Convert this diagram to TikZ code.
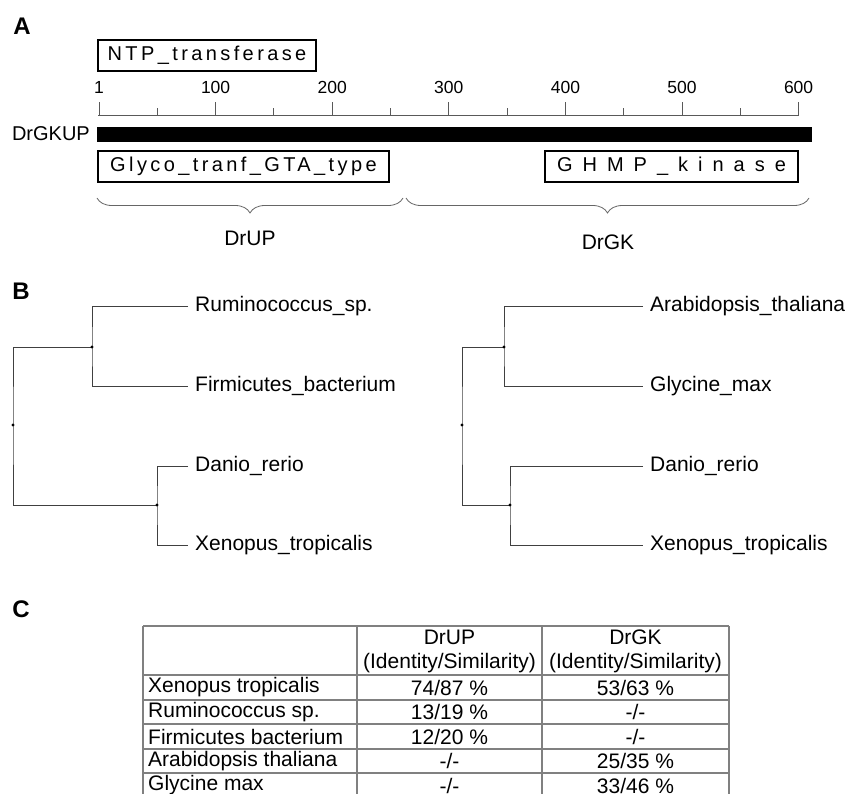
\documentclass[tikz,border=0pt]{standalone}
\usepackage{fontspec}
\setmainfont{Liberation Sans}
\usetikzlibrary{decorations.pathreplacing}

\tikzset{
  panel/.style={inner sep=0pt,font=\fontsize{24}{28}\selectfont\bfseries},
  dombox/.style={draw,line width=2pt,minimum height=31pt,inner sep=0pt,font=\fontsize{20}{24}\selectfont},
  num/.style={inner sep=0pt,font=\fontsize{17.5}{20}\selectfont},
  ruler/.style={draw=black!65,line width=1pt},
  curly/.style={draw=black!60,line width=0.8pt,decorate,decoration={brace,mirror,amplitude=15pt}},
  leaf/.style={anchor=west,inner xsep=7pt,inner ysep=0pt,font=\fontsize{21}{25}\selectfont},
  branch/.style={draw=black!75,line width=0.8pt},
  cell/.style={inner sep=0pt,font=\fontsize{21}{23.5}\selectfont},
  tabline/.style={draw=black!50,line width=1.4pt},
}

\begin{document}
\begin{tikzpicture}[x=1pt,y=-1pt]
\useasboundingbox (0,0) rectangle (852,794);

\node[panel] (pA) at (22,26) {A};
\node[panel] (pB) at (21,291) {B};
\node[panel] (pC) at (21,609) {C};

\node[dombox,minimum width=218pt] (ntp) at (207,55.5) {\addfontfeature{LetterSpace=17}NTP\_transferase};

\draw[ruler] (98,116) -- (799,116);
\foreach \n in {50,150,...,550}
  \draw[ruler] ({99+1.166*\n},116) -- ++(0,-8);
\foreach \n/\lab in {0/1,100/100,200/200,300/300,400/400,500/500,600/600} {
  \draw[ruler] ({99+1.166*\n},116) -- ++(0,-14);
  \node[num] (pos\lab) at ({99+1.166*\n},87) {\lab};
}

\node[anchor=east,inner sep=0pt,font=\fontsize{20}{24}\selectfont] (prot) at (90,134) {DrGKUP};
\node[fill,anchor=west,minimum width=715pt,minimum height=15pt,inner sep=0pt] (bar) at (97,134.5) {};

\node[dombox,minimum width=291pt] (glyco) at (243.5,166.5) {\addfontfeature{LetterSpace=17}Glyco\_tranf\_GTA\_type};
\node[dombox,minimum width=253pt] (ghmp) at (671.5,166.5) {\addfontfeature{LetterSpace=50}GHMP\_kinase};

\draw[curly] (97,198) -- (403,198);
\draw[curly] (406,198) -- (809,198);
\node[cell] (drup) at (250,238) {DrUP};
\node[cell] (drgk) at (608,242) {DrGK};

\coordinate (rootL) at (13,425);
\coordinate (upL) at (92,347);
\coordinate (loL) at (157,505);
\node[leaf] (rumi) at (188,306) {Ruminococcus\_sp.};
\node[leaf] (firm) at (188,386) {Firmicutes\_bacterium};
\node[leaf] (danL) at (188,466) {Danio\_rerio};
\node[leaf] (xenL) at (188,545) {Xenopus\_tropicalis};
\draw[branch] (rumi.west) -| (upL) |- (firm.west);
\draw[branch] (danL.west) -| (loL) |- (xenL.west);
\draw[branch] (upL) -| (rootL) |- (loL);

\coordinate (rootR) at (462,425);
\coordinate (upR) at (504,347);
\coordinate (loR) at (510,505);
\node[leaf] (arab) at (643,306) {Arabidopsis\_thaliana};
\node[leaf] (glyc) at (643,386) {Glycine\_max};
\node[leaf] (danR) at (643,466) {Danio\_rerio};
\node[leaf] (xenR) at (643,545) {Xenopus\_tropicalis};
\draw[branch] (arab.west) -| (upR) |- (glyc.west);
\draw[branch] (danR.west) -| (loR) |- (xenR.west);
\draw[branch] (upR) -| (rootR) |- (loR);

\foreach \p in {rootL,upL,loL,rootR,upR,loR}
  \fill (\p) circle (1.6pt);

\foreach \y in {626,675,700,724,749,773}
  \draw[tabline] (143,\y) -- (729,\y);
\foreach \x in {143,357,542,729}
  \draw[tabline] (\x,626) -- (\x,800);

\node[cell,align=center] (hup) at (449.5,651.5) {DrUP\\(Identity/Similarity)};
\node[cell,align=center] (hgk) at (635.5,651.5) {DrGK\\(Identity/Similarity)};
\foreach \sp/\up/\gk [count=\i] in {{Xenopus tropicalis}/{74/87 \%}/{53/63 \%},
    {Ruminococcus sp.}/{13/19 \%}/{-/-},
    {Firmicutes bacterium}/{12/20 \%}/{-/-},
    {Arabidopsis thaliana}/{-/-}/{25/35 \%},
    {Glycine max}/{-/-}/{33/46 \%}} {
  \node[cell,anchor=west] (sp\i) at (148,{663+24.5*\i}) {\sp};
  \node[cell] (up\i) at (449.5,{663+24.5*\i}) {\up};
  \node[cell] (gk\i) at (635.5,{663+24.5*\i}) {\gk};
}
\end{tikzpicture}
\end{document}
